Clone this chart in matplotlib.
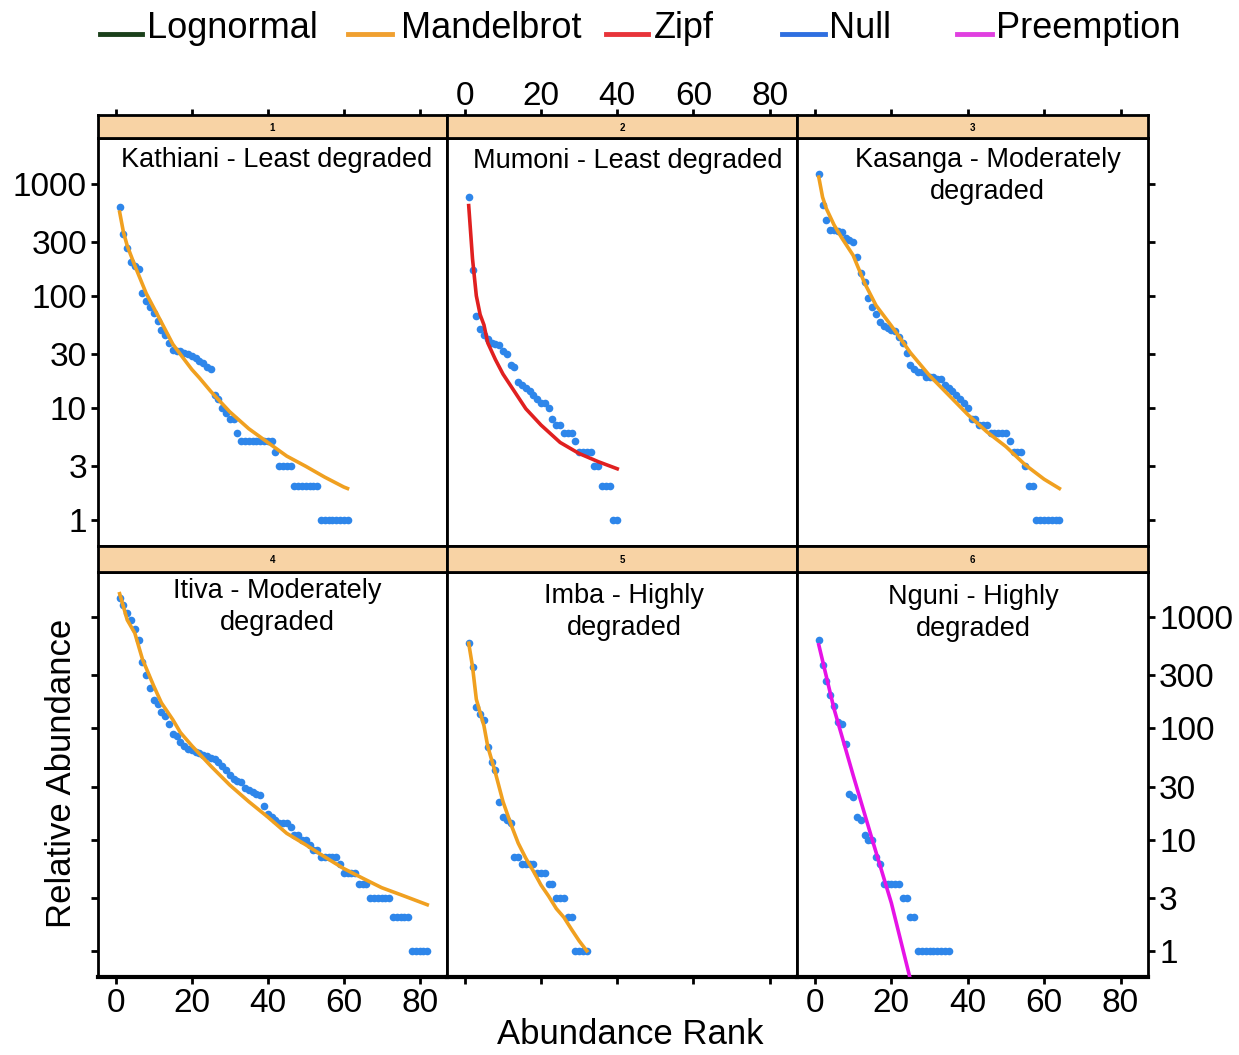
import matplotlib.pyplot as plt
from matplotlib.lines import Line2D
from matplotlib.ticker import NullLocator

plt.rcParams['font.family'] = ['Liberation Sans', 'DejaVu Sans']

W, H = 1239, 1055

# observed abundances, rank 1..n (blue points)
kathiani = [620, 360, 265, 200, 185, 175, 105, 90, 80, 70, 60, 50, 45, 38, 33, 32,
            32, 31, 30, 29, 28, 26, 25, 23, 22, 13, 12, 10, 9, 8, 8, 6,
            5, 5, 5, 5, 5, 5, 5, 5, 5, 4, 3, 3, 3, 3, 2, 2, 2, 2, 2, 2, 2,
            1, 1, 1, 1, 1, 1, 1, 1]
mumoni = [760, 170, 66, 51, 45, 41, 38, 37, 36, 32, 30, 24, 23, 17, 16, 15, 14, 13,
          12, 11, 11, 10, 8, 7, 7, 6, 6, 6, 5, 4, 4, 4, 4, 3, 3, 2, 2, 2, 1, 1]
kasanga = [1220, 650, 480, 390, 385, 378, 372, 330, 315, 300, 223, 160, 133, 95, 80,
           69, 58, 54, 52, 50, 49, 43, 38, 31, 24, 22, 21, 21, 19, 19, 19, 18, 18,
           16, 15, 14, 13, 12, 11, 10, 8, 8, 7, 7, 7, 6, 6, 6, 6, 6, 5, 4, 4, 4,
           3, 2, 2, 1, 1, 1, 1, 1, 1, 1]
itiva = [1480, 1300, 1100, 950, 790, 630, 400, 300, 230, 180, 165, 140, 130, 110, 90,
         85, 75, 70, 66, 64, 62, 60, 58, 56, 54, 53, 50, 46, 42, 38, 35, 34, 33, 29,
         28, 27, 26, 25, 20, 17, 16, 15, 14, 14, 14, 13, 11, 11, 10, 10, 9, 8, 8,
         7, 7, 7, 7, 7, 6, 5, 5, 5, 5, 4, 4, 4, 3, 3, 3, 3, 3, 3, 2, 2, 2, 2, 2,
         1, 1, 1, 1, 1]
imba = [585, 360, 155, 135, 120, 68, 50, 42, 22, 16, 15, 14, 7, 7, 6, 6, 6, 6, 5, 5,
        5, 4, 4, 3, 3, 3, 2, 2, 1, 1, 1, 1]
nguni = [630, 375, 267, 200, 160, 115, 110, 72, 26, 24, 16, 15, 11, 10, 10, 7, 6, 4,
         4, 4, 4, 4, 3, 3, 2, 2, 1, 1, 1, 1, 1, 1, 1, 1, 1]

# fitted model curves
kathiani_fit_rank = [1, 2, 3, 5, 8, 10, 12, 15, 17, 20, 22, 25, 30, 35, 40, 45, 50, 55, 60, 61]
kathiani_fit = [560, 370, 280, 186, 105, 78, 58, 37, 30, 22, 18.5, 14, 9.2, 6.5, 4.9,
                3.7, 3.0, 2.4, 1.96, 1.9]
mumoni_fit_rank = [1, 2, 3, 4, 5, 6, 8, 10, 13, 16, 20, 25, 30, 35, 40]
mumoni_fit = [640, 214, 100, 68, 55, 38, 27, 20, 14, 9.8, 7, 4.9, 3.9, 3.3, 2.85]
kasanga_fit_rank = [1, 2, 3, 5, 7, 10, 13, 16, 20, 25, 30, 35, 40, 45, 50, 55, 60, 64]
kasanga_fit = [1150, 760, 600, 430, 330, 230, 130, 82, 54, 31, 19.4, 13, 8.7, 6.1, 4.5,
               3.1, 2.3, 1.9]
itiva_fit_rank = [1, 2, 3, 5, 7, 10, 12, 15, 17, 20, 25, 30, 35, 40, 45, 50, 55, 60, 65,
                  70, 75, 82]
itiva_fit = [1630, 1245, 946, 720, 420, 240, 170, 120, 92, 70, 46, 31, 22, 16, 11.4, 9,
             7, 5.5, 4.5, 3.7, 3.2, 2.6]
imba_fit_rank = [1, 2, 3, 4, 5, 6, 8, 10, 12, 14, 16, 18, 20, 22, 24, 26, 28, 30, 32]
imba_fit = [585, 360, 183, 139, 106, 69, 40, 22, 14, 9.3, 6.8, 5.2, 3.9, 3.1, 2.4, 2.0,
            1.56, 1.23, 1.0]
nguni_fit_rank = [1, 5, 10, 15, 20, 25]
nguni_fit = [566, 150, 38, 10, 2.7, 0.55]

legend_labels = ["Lognormal", "Mandelbrot", "Zipf", "Null", "Preemption"]
legend_colors = ["#1B401B", "#F0A030", "#E8343A", "#2F6FE0", "#E040E0"]

yticks = [1, 3, 10, 30, 100, 300, 1000]
xticks = [0, 20, 40, 60, 80]

ORANGE = "#F0A020"
RED = "#E02020"
MAGENTA = "#E612E6"
BLUE = "#2E86EA"

# title, data, fit ranks, fit values, fit colour, title x, title y (axes frac)
panels = [
    ("Kathiani - Least degraded", kathiani, kathiani_fit_rank, kathiani_fit, ORANGE, 0.513, 0.978),
    ("Mumoni - Least degraded", mumoni, mumoni_fit_rank, mumoni_fit, RED, 0.517, 0.975),
    ("Kasanga - Moderately\ndegraded", kasanga, kasanga_fit_rank, kasanga_fit, ORANGE, 0.543, 0.978),
    ("Itiva - Moderately\ndegraded", itiva, itiva_fit_rank, itiva_fit, ORANGE, 0.515, 0.985),
    ("Imba - Highly\ndegraded", imba, imba_fit_rank, imba_fit, ORANGE, 0.506, 0.972),
    ("Nguni - Highly\ndegraded", nguni, nguni_fit_rank, nguni_fit, MAGENTA, 0.502, 0.969),
]

col_x = [98, 447, 797, 1148]
row_y = [(115, 138, 546), (546, 571.7, 977)]
xlim = (-4.7, 87.2)
ylim = (10 ** -0.235, 10 ** 3.41)


def box(x0, y0, x1, y1):
    return [x0 / W, 1 - y1 / H, (x1 - x0) / W, (y1 - y0) / H]


fig = plt.figure(figsize=(W / 100, H / 100), dpi=100)

for i, (title, obs, fr, fv, fcol, tx, ty) in enumerate(panels):
    r, c = divmod(i, 3)
    s_top, a_top, a_bot = row_y[r]
    x0, x1 = col_x[c], col_x[c + 1]

    ax = fig.add_axes(box(x0, a_top, x1, a_bot))
    ranks = list(range(1, len(obs) + 1))
    ax.plot(ranks, obs, "o", color=BLUE, ms=5.5, mec="none", zorder=2)
    ax.plot(fr, fv, "-", color=fcol, lw=2.6, zorder=3)
    ax.set_yscale("log")
    ax.set_xlim(*xlim)
    ax.set_ylim(*ylim)
    ax.set_yticks(yticks, labels=[str(t) for t in yticks])
    ax.yaxis.set_minor_locator(NullLocator())
    ax.set_xticks(xticks, labels=[str(t) for t in xticks])
    ax.tick_params(axis="both", which="both", direction="out", length=5, width=2,
                   labelsize=24, pad=3,
                   left=(c == 0), labelleft=(c == 0 and r == 0),
                   right=(c == 2), labelright=(c == 2 and r == 1),
                   bottom=(r == 1), labelbottom=(r == 1 and c != 1),
                   top=False, labeltop=False)
    for sp in ax.spines.values():
        sp.set_linewidth(2)
    if r == 1:
        ax.spines["bottom"].set_linewidth(3)
    ax.text(tx, ty, title, transform=ax.transAxes, ha="center", va="top",
            fontsize=19.5, linespacing=1.3)

    # lattice-style strip
    st = fig.add_axes(box(x0, s_top, x1, a_top))
    st.set_facecolor("#F8D3A5")
    st.set_xlim(*xlim)
    st.set_yticks([])
    if r == 0:
        st.set_xticks(xticks, labels=[str(t) for t in xticks])
        st.tick_params(axis="x", direction="out", length=4, width=2, labelsize=24,
                       pad=-2, top=True, bottom=False, labeltop=(c == 1),
                       labelbottom=False)
    else:
        st.set_xticks([])
    for sp in st.spines.values():
        sp.set_linewidth(2)
    st.text(0.5, 0.45, str(i + 1), transform=st.transAxes, ha="center", va="center",
            fontsize=7, fontweight="bold")

# axis titles
fig.text(62 / W, 1 - 773 / H, "Relative Abundance", rotation=90, ha="center",
         va="center", fontsize=25)
fig.text(630 / W, 1 - 1035 / H, "Abundance Rank", ha="center", va="center", fontsize=25)

# legend along the top
leg_line_x = [(100, 142), (348, 392), (606, 648), (782, 825), (957, 992)]
leg_text_x = [147, 401, 654, 829, 996]
for lab, col, (lx0, lx1), tx in zip(legend_labels, legend_colors, leg_line_x, leg_text_x):
    fig.add_artist(Line2D([lx0 / W, lx1 / W], [1 - 34 / H, 1 - 34 / H],
                          transform=fig.transFigure, color=col, lw=3.5))
    fig.text(tx / W, 1 - 29 / H, lab, ha="left", va="center", fontsize=26)

fig.savefig("out.png", dpi=100)
